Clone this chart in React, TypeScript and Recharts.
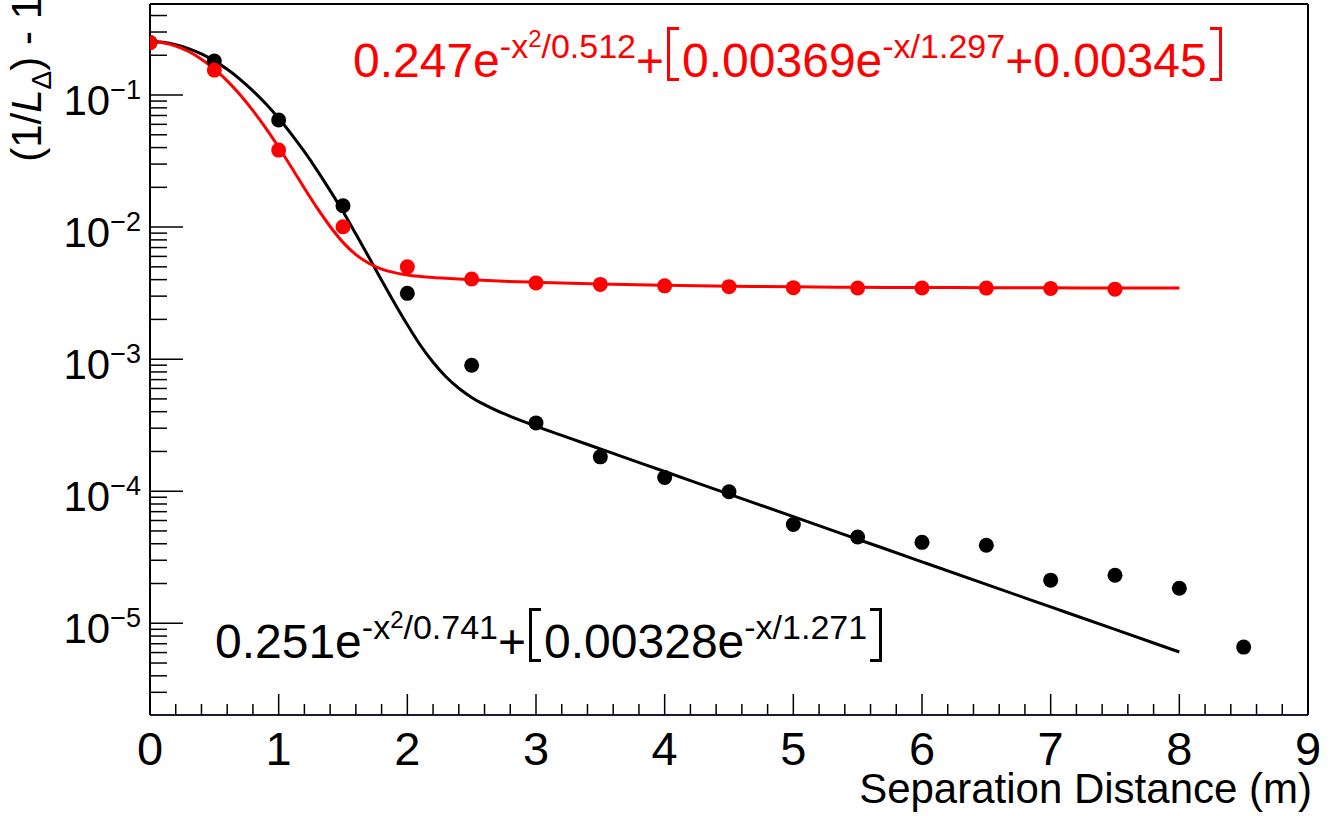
import React from "react";
import {
  ComposedChart,
  Line,
  Scatter,
  XAxis,
  YAxis,
  ReferenceLine,
} from "recharts";

// ---------- data ----------
const blackPointX = [0, 0.5, 1, 1.5, 2, 2.5, 3, 3.5, 4, 4.5, 5, 5.5, 6, 6.5, 7, 7.5, 8, 8.5];
const blackPointY = [
  0.25, 0.181, 0.0647, 0.0145, 0.00315, 0.0009, 0.000329, 0.000182, 0.000127, 9.9e-5,
  5.6e-5, 4.5e-5, 4.1e-5, 3.9e-5, 2.12e-5, 2.31e-5, 1.84e-5, 6.6e-6,
];

const redPointX = [0, 0.5, 1, 1.5, 2, 2.5, 3, 3.5, 4, 4.5, 5, 5.5, 6, 6.5, 7, 7.5];
const redPointY = [
  0.249, 0.1545, 0.0383, 0.01005, 0.005, 0.00404, 0.00378, 0.00368, 0.00359, 0.00354,
  0.00348, 0.00346, 0.00346, 0.00345, 0.00343, 0.00339,
];

const blackFitX = [
  0, 0.1, 0.2, 0.3, 0.4, 0.5, 0.6, 0.7, 0.8, 0.9, 1.0, 1.1, 1.2, 1.3, 1.4, 1.5, 1.6, 1.7,
  1.8, 1.9, 2.0, 2.1, 2.2, 2.3, 2.4, 2.5, 2.6, 2.7, 2.8, 2.9, 3.0, 3.5, 4.0, 4.5, 5.0,
  5.5, 6.0, 6.5, 7.0, 7.5, 8.0,
];
const blackFitY = [
  0.2543, 0.2507, 0.2406, 0.2249, 0.2047, 0.1813, 0.1565, 0.1315, 0.1076, 0.0858, 0.0666,
  0.0504, 0.0372, 0.0268, 0.0189, 0.0131, 0.00886, 0.00594, 0.00396, 0.00266, 0.00182,
  0.00128, 0.000947, 0.000736, 0.000602, 0.000513, 0.000452, 0.000405, 0.000369,
  0.000338, 0.000311, 0.000209, 0.000141, 9.51e-5, 6.42e-5, 4.33e-5, 2.92e-5, 1.97e-5,
  1.33e-5, 8.98e-6, 6.06e-6,
];

const redFitX = [
  0, 0.1, 0.2, 0.3, 0.4, 0.5, 0.6, 0.7, 0.8, 0.9, 1.0, 1.1, 1.2, 1.3, 1.4, 1.5, 1.6, 1.7,
  1.8, 1.9, 2.0, 2.1, 2.2, 2.3, 2.4, 2.5, 2.75, 3.0, 3.5, 4.0, 4.5, 5.0, 5.5, 6.0, 6.5,
  7.0, 7.5, 8.0,
];
const redFitY = [
  0.2541, 0.2491, 0.2351, 0.2136, 0.1869, 0.1575, 0.128, 0.1005, 0.0762, 0.0561, 0.0402,
  0.0283, 0.0197, 0.0139, 0.0101, 0.00766, 0.00619, 0.00532, 0.00481, 0.00452, 0.00434,
  0.00423, 0.00415, 0.00409, 0.00404, 0.00399, 0.00389, 0.00382, 0.0037, 0.00362,
  0.00357, 0.00353, 0.0035, 0.00349, 0.00348, 0.00347, 0.00346, 0.00346,
];

// ---------- axes ----------
const xMajorTicks = [0, 1, 2, 3, 4, 5, 6, 7, 8, 9];
const xMinorSteps = [0.2, 0.4, 0.6, 0.8];
const yMajorTicks = [1e-5, 1e-4, 1e-3, 1e-2, 1e-1];
const yMajorLabels = ["\u22125", "\u22124", "\u22123", "\u22122", "\u22121"];
const yMinorMultipliers = [2, 3, 4, 5, 6, 7, 8, 9];
const yDecades = [1e-6, 1e-5, 1e-4, 1e-3, 1e-2, 1e-1];
const yDomain: [number, number] = [2.02e-6, 0.489];
const xDomain: [number, number] = [0, 9];

const xTicksAll = [
  ...xMajorTicks,
  ...xMajorTicks.flatMap((m) => xMinorSteps.map((f) => +(m + f).toFixed(1))).filter((v) => v < 9),
].sort((a, b) => a - b);

const yTicksAll = [
  ...yMajorTicks,
  ...yDecades.flatMap((d) => yMinorMultipliers.map((m) => +(d * m).toPrecision(3))).filter(
    (v) => v >= yDomain[0] && v <= yDomain[1]
  ),
].sort((a, b) => a - b);

const blackPoints = blackPointX.map((x, i) => ({ x, y: blackPointY[i] }));
const redPoints = redPointX.map((x, i) => ({ x, y: redPointY[i] }));
const blackFit = blackFitX.map((x, i) => ({ x, y: blackFitY[i] }));
const redFit = redFitX.map((x, i) => ({ x, y: redFitY[i] }));

const FONT = '"Liberation Sans", Arial, Helvetica, sans-serif';

const XTick = (props: any) => {
  const { x, y, payload } = props;
  const v = payload.value;
  const major = Math.abs(v - Math.round(v)) < 1e-6;
  return (
    <g>
      <line x1={x} x2={x} y1={y} y2={y - (major ? 21 : 11)} stroke="#000" strokeWidth={1.5} />
      {major && (
        <text x={x} y={y + 50} textAnchor="middle" fontSize={47} fontFamily={FONT} fill="#000">
          {String(Math.round(v))}
        </text>
      )}
    </g>
  );
};

const YTick = (props: any) => {
  const { x, y, payload } = props;
  const v = payload.value;
  const idx = yMajorTicks.findIndex((t) => Math.abs(Math.log10(t) - Math.log10(v)) < 1e-6);
  const major = idx >= 0;
  return (
    <g>
      <line x1={x} x2={x + (major ? 33 : 17)} y1={y} y2={y} stroke="#000" strokeWidth={1.5} />
      {major && (
        <text x={x - 9} y={y + 20} textAnchor="end" fontSize={42} fontFamily={FONT} fill="#000">
          <tspan>10</tspan>
          <tspan fontSize={27} dy={-16}>
            {yMajorLabels[idx]}
          </tspan>
        </text>
      )}
    </g>
  );
};

const dot = (color: string) => (props: any) => {
  const { cx, cy } = props;
  if (cx == null || cy == null) return <g />;
  return <circle cx={cx} cy={cy} r={7.5} fill={color} />;
};

const Bracket = ({ side }: { side: "l" | "r" }) => (
  <span
    style={{
      display: "inline-block",
      width: 12,
      height: 54,
      boxSizing: "border-box",
      borderTop: "3px solid currentColor",
      borderBottom: "3px solid currentColor",
      borderLeft: side === "l" ? "3px solid currentColor" : "none",
      borderRight: side === "r" ? "3px solid currentColor" : "none",
      verticalAlign: "-4px",
      margin: "0 3px",
    }}
  />
);

const Sup = ({ children }: { children: React.ReactNode }) => (
  <span style={{ fontSize: 34, position: "relative", top: -19 }}>{children}</span>
);
const SupSup = ({ children }: { children: React.ReactNode }) => (
  <span style={{ fontSize: 24, position: "relative", top: -11 }}>{children}</span>
);

const formulaStyle = (left: number, top: number, color: string): React.CSSProperties => ({
  position: "absolute",
  left,
  top,
  color,
  fontFamily: FONT,
  fontSize: 48,
  lineHeight: "48px",
  whiteSpace: "nowrap",
});

export default function App() {
  return (
    <div style={{ position: "absolute", left: 0, top: 0, width: 1340, height: 816, background: "#fff", overflow: "hidden" }}>
      <ComposedChart width={1340} height={816} margin={{ top: 4, right: 32, bottom: 0, left: 0 }}>
        <XAxis
          dataKey="x"
          type="number"
          domain={xDomain}
          allowDataOverflow
          ticks={xTicksAll}
          interval={0}
          tickSize={0}
          tickMargin={0}
          tickLine={false}
          tick={XTick}
          axisLine={{ stroke: "#1a1a3a", strokeWidth: 2 }}
          height={101}
        />
        <YAxis
          dataKey="y"
          type="number"
          scale="log"
          domain={yDomain}
          allowDataOverflow
          ticks={yTicksAll}
          interval={0}
          tickSize={0}
          tickMargin={0}
          tickLine={false}
          tick={YTick}
          axisLine={{ stroke: "#000", strokeWidth: 2 }}
          width={150}
        />
        <ReferenceLine y={yDomain[1]} stroke="#000" strokeWidth={2} />
        <ReferenceLine x={xDomain[1]} stroke="#000" strokeWidth={2} />
        <Line data={blackFit} dataKey="y" type="monotone" stroke="#000" strokeWidth={3} dot={false} isAnimationActive={false} />
        <Line data={redFit} dataKey="y" type="monotone" stroke="#ff0000" strokeWidth={3} dot={false} isAnimationActive={false} />
        <Scatter data={blackPoints} dataKey="y" shape={dot("#000")} isAnimationActive={false} />
        <Scatter data={redPoints} dataKey="y" shape={dot("#ff0000")} isAnimationActive={false} />
      </ComposedChart>

      <svg width={80} height={320} style={{ position: "absolute", left: 0, top: 0, overflow: "visible" }}>
        <text transform="translate(41,-4) rotate(-90)" textAnchor="end" fontSize={42} fontFamily={FONT} fill="#000">
          <tspan>(1/</tspan>
          <tspan fontStyle="italic">L</tspan>
          <tspan fontSize={28} dy={10}>Δ</tspan>
          <tspan dy={-10}>) - 1</tspan>
        </text>
      </svg>

      <div style={formulaStyle(353, 27, "#ff0000")}>
        0.247e
        <Sup>
          -x<SupSup>2</SupSup>/0.512
        </Sup>
        +<Bracket side="l" />
        0.00369e<Sup>-x/1.297</Sup>+0.00345
        <Bracket side="r" />
      </div>

      <div style={formulaStyle(215, 608, "#000")}>
        0.251e
        <Sup>
          -x<SupSup>2</SupSup>/0.741
        </Sup>
        +<Bracket side="l" />
        0.00328e<Sup>-x/1.271</Sup>
        <Bracket side="r" />
      </div>

      <div
        style={{
          position: "absolute",
          right: 1340 - 1312,
          top: 768,
          fontFamily: FONT,
          fontSize: 42,
          lineHeight: "42px",
          whiteSpace: "nowrap",
          color: "#000",
        }}
      >
        Separation Distance (m)
      </div>
    </div>
  );
}
